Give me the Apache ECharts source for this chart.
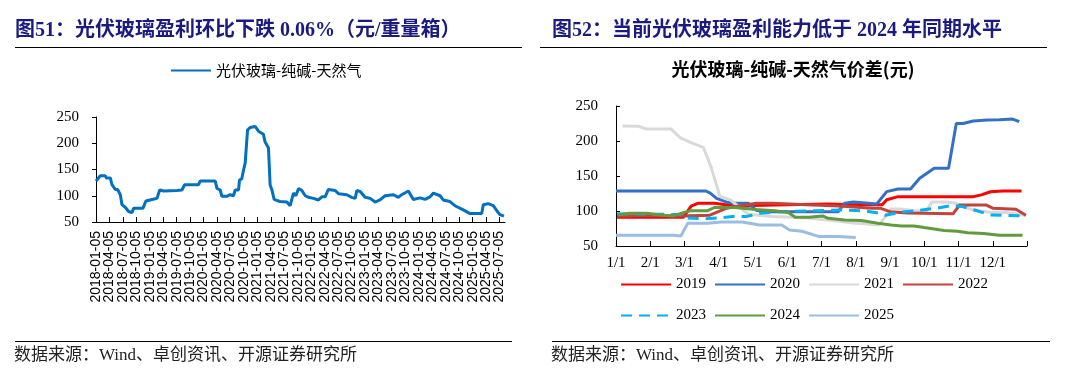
<!DOCTYPE html>
<html><head><meta charset="utf-8">
<script src="https://cdn.jsdelivr.net/npm/echarts@6/dist/echarts.min.js"></script>
<style>html,body{margin:0;padding:0;background:#fff}#c{width:1074px;height:378px}</style>
</head><body><div id="c"></div>
<script>
// ---------- Left chart data (date, value) ----------
const leftName = '光伏玻璃-纯碱-天然气';
const leftSeries = [
['2018-01-05',128],['2018-02-04',138],['2018-03-07',138],['2018-03-14',134],['2018-04-11',134],
['2018-04-22',121],['2018-05-14',112],['2018-05-30',112],['2018-06-18',102],['2018-06-29',83],
['2018-07-21',78],['2018-08-13',70],['2018-09-05',68],['2018-09-17',76],['2018-11-19',76],
['2018-12-09',90],['2019-01-20',93],['2019-02-23',95],['2019-03-11',111],['2019-04-07',109],
['2019-07-06',110],['2019-08-10',111],['2019-08-28',121],['2019-12-01',121],['2019-12-12',128],
['2020-03-23',128],['2020-04-04',114],['2020-04-26',111],['2020-05-07',99],['2020-06-10',99],
['2020-07-03',102],['2020-07-25',100],['2020-08-06',111],['2020-08-29',111],['2020-09-05',130],
['2020-09-20',132],['2020-10-02',149],['2020-10-13',162],['2020-10-24',163],['2020-10-29',225],
['2020-11-16',230],['2020-12-20',232],['2021-01-12',223],['2021-02-15',217],['2021-02-26',203],
['2021-03-19',191],['2021-03-30',121],['2021-04-12',111],['2021-04-27',93],['2021-05-15',91],
['2021-06-07',89],['2021-07-22',88],['2021-08-14',81],['2021-08-25',81],['2021-09-06',105],
['2021-09-22',100],['2021-10-10',114],['2021-11-02',110],['2021-11-25',100],['2021-12-17',97],
['2022-01-20',95],['2022-02-23',92],['2022-03-16',98],['2022-04-08',98],['2022-04-30',112],
['2022-06-15',110],['2022-07-07',104],['2022-09-03',102],['2022-10-06',97],['2022-10-29',95],
['2022-11-10',110],['2022-12-02',108],['2023-01-05',97],['2023-02-09',95],['2023-03-12',88],
['2023-04-15',92],['2023-05-19',100],['2023-07-15',102],['2023-08-18',97],['2023-09-10',102],
['2023-10-25',109],['2023-11-28',93],['2024-01-13',96],['2024-02-16',93],['2024-03-20',98],
['2024-04-12',105],['2024-05-27',100],['2024-06-18',92],['2024-08-03',89],['2024-09-06',81],
['2024-11-02',73],['2024-12-17',66],['2025-03-05',66],['2025-03-16',83],['2025-04-19',85],
['2025-05-23',81],['2025-06-15',72],['2025-07-07',64],['2025-08-04',61]
];
const leftYTicks = [50,100,150,200,250];
// quarterly tick labels, 2018-01-05 ... 2025-07-05 (as month offsets)
const leftXTicks = [0,3,6,9,12,15,18,21,24,27,30,33,36,39,42,45,48,51,54,57,60,63,66,69,72,75,78,81,84,87,90];

// ---------- Right chart data (M/D, value) per year ----------
const years = ['2019','2020','2021','2022','2023','2024','2025'];
const s2019 = [['1/2',91],['2/28',91],['3/1',93],['3/7',107],['3/13',111],['3/28',111],['4/7',109],['4/19',106],['5/1',108],['6/1',109],['7/7',110],['8/1',109],['8/25',109],['8/29',116],['9/8',120.5],['11/14',120.5],['11/21',123],['11/29',127.5],['12/10',128.5],['12/27',128.5]];
const s2020 = [['1/1',128.6],['3/20',128.6],['3/24',126],['3/30',118],['4/9',112],['4/16',111],['4/27',111],['5/4',101],['5/10',99],['7/16',99],['7/22',111],['7/30',113],['8/20',110],['8/29',127.7],['9/8',131.5],['9/19',131.5],['9/27',146.7],['10/10',161],['10/23',161],['10/30',225],['11/5',225],['11/14',228.6],['11/26',230],['12/7',230.5],['12/19',231.4],['12/25',227.6]];
const s2021 = [['1/7',221.4],['1/21',221],['1/29',217],['2/18',217],['2/26',204],['3/8',197],['3/18',191],['3/25',163],['4/2',121],['4/11',116],['4/18',107],['4/24',99],['4/28',95],['5/19',92],['6/19',90],['7/1',88],['7/13',86],['7/30',83],['8/22',80],['9/2',103],['9/10',103],['9/25',100],['10/3',100],['10/8',113],['10/21',113],['10/30',111],['11/14',101],['12/1',98],['12/13',98],['12/26',95],['12/31',93]];
const s2022 = [['1/2',93],['2/1',94],['2/26',93],['3/24',94],['4/8',104],['4/19',107],['5/4',111],['5/19',111],['6/18',109],['7/17',107],['8/16',104],['8/23',104],['9/1',99],['9/16',97],['10/27',96],['11/2',108.6],['11/25',108.6],['12/1',104],['12/22',102.5],['12/31',94]];
const s2023 = [['1/2',96],['2/26',95],['3/1',90],['3/19',89],['4/1',90],['4/13',92],['4/25',92],['5/6',96.7],['5/27',99],['6/26',100.5],['7/22',101.4],['8/10',100],['8/22',97],['8/28',94],['9/9',98],['9/24',100.5],['10/12',104],['10/27',108],['11/5',106],['11/16',101],['11/29',94.3],['12/28',93]];
const s2024 = [['1/3',94.4],['1/13',96.7],['1/29',96.7],['2/9',94.4],['2/20',93],['2/28',97.7],['3/7',100.5],['3/22',100.5],['3/28',105],['4/15',105],['5/3',102],['5/21',100.5],['6/2',97.7],['6/8',91],['6/20',91],['7/2',93],['7/7',89.6],['7/22',87.2],['8/6',86.3],['8/21',82.4],['9/2',80],['9/11',78.6],['9/22',78.6],['10/1',76.3],['10/19',72],['10/31',71],['11/9',69],['11/23',68],['12/7',65.3],['12/28',65.3]];
const s2025 = [['1/1',65.3],['2/20',65.3],['2/26',64.4],['3/4',82.4],['3/22',82.4],['4/3',84.3],['4/21',84.3],['4/28',82.4],['5/7',80],['5/27',80],['6/3',73],['6/14',71],['6/29',63.4],['7/16',63.4],['8/1',62]];
const rightYTicks = [50,100,150,200,250];
const rightXLabels = ['1/1','2/1','3/1','4/1','5/1','6/1','7/1','8/1','9/1','10/1','11/1','12/1'];

// ---------- helpers ----------
const SERIF = '"Liberation Serif","Noto Sans CJK SC",serif';
const CJK = '"Noto Sans CJK SC","Liberation Sans",sans-serif';
function leftX(d){const p=d.split('-').map(Number);return (p[0]-2018)*12+(p[1]-1)+(p[2]-5)/30.4;}
const mdays=[31,28,31,30,31,30,31,31,30,31,30,31];
function rightX(md){const p=md.split('/').map(Number);return (p[0]-1)+(p[1]-1)/mdays[p[0]-1];}
function leftLabel(v){const y=2018+Math.floor(v/12);const m=(v%12)+1;return y+'-'+(m<10?'0'+m:m)+'-05';}
// split labels over two stacked axes so the library does not drop any as overlapping
const leftXTicksA = leftXTicks.filter((v,i)=>i%2===0);
const leftXTicksB = leftXTicks.filter((v,i)=>i%2===1);

const yearData=[s2019,s2020,s2021,s2022,s2023,s2024,s2025];
const yearColors=['#ff0000','#3470c6','#d9d9d9','#c2433a','#00b0f0','#629b3f','#9bbde4'];

const chart = echarts.init(document.getElementById('c'), null, {renderer:'canvas'});
const axisBlack={lineStyle:{color:'#000',width:1}};
const legendCommon={padding:0,itemHeight:3,itemStyle:{opacity:0,borderWidth:0}};
const leftLabelStyle={rotate:90,margin:9,hideOverlap:false,showMinLabel:true,showMaxLabel:true,
  fontFamily:'"Liberation Sans",sans-serif',fontSize:14,color:'#000',formatter:leftLabel};
const option = {
  animation:false,
  backgroundColor:'#fff',
  title:[
    {text:'图51：光伏玻璃盈利环比下跌 0.06%（元/重量箱）',left:15,top:21,padding:0,
     textStyle:{fontFamily:SERIF,fontWeight:'bold',fontSize:20,color:'#1a1a80'}},
    {text:'图52：当前光伏玻璃盈利能力低于 2024 年同期水平',left:552,top:21,padding:0,
     textStyle:{fontFamily:SERIF,fontWeight:'bold',fontSize:20,color:'#1a1a80'}},
    {text:'光伏玻璃-纯碱-天然气价差(元)',left:793,textAlign:'center',top:60,padding:0,
     textStyle:{fontFamily:CJK,fontWeight:'bold',fontSize:18,color:'#000'}}
  ],
  legend:[
    Object.assign({data:[leftName],left:170,top:63,itemWidth:40,
     textStyle:{fontFamily:CJK,fontSize:15,color:'#000'}},legendCommon),
    Object.assign({data:['2019','2020','2021','2022'],left:620,top:277,itemWidth:50,itemGap:8,
     textStyle:{fontFamily:SERIF,fontSize:15,color:'#000'}},legendCommon),
    Object.assign({data:['2023','2024','2025'],left:620,top:308,itemWidth:50,itemGap:8,
     textStyle:{fontFamily:SERIF,fontSize:15,color:'#000'}},legendCommon)
  ],
  grid:[
    {left:96,top:117,width:409,height:105},
    {left:616,top:106,width:411,height:140}
  ],
  xAxis:[
    {gridIndex:0,type:'value',position:'bottom',min:0,max:91.2,axisLine:axisBlack,
     axisTick:{inside:true,length:5,customValues:leftXTicks,lineStyle:{color:'#000'}},
     axisLabel:Object.assign({customValues:leftXTicksA},leftLabelStyle),
     splitLine:{show:false}},
    {gridIndex:0,type:'value',position:'bottom',offset:0,min:0,max:91.2,axisLine:{show:false},
     axisTick:{show:false},
     axisLabel:Object.assign({customValues:leftXTicksB},leftLabelStyle),
     splitLine:{show:false}},
    {gridIndex:1,type:'value',min:0,max:12,axisLine:axisBlack,
     axisTick:{inside:true,length:5,customValues:[0,1,2,3,4,5,6,7,8,9,10,11,12],lineStyle:{color:'#000'}},
     axisLabel:{customValues:[0,1,2,3,4,5,6,7,8,9,10,11],margin:10,hideOverlap:false,showMinLabel:true,fontFamily:SERIF,fontSize:15,color:'#000',
       formatter:function(v){return rightXLabels[Math.round(v)]||'';}},
     splitLine:{show:false}}
  ],
  yAxis:[
    {gridIndex:0,type:'value',min:50,max:250,interval:50,axisLine:{show:true,lineStyle:{color:'#000'}},
     axisTick:{show:true,inside:false,length:4,lineStyle:{color:'#000'}},
     axisLabel:{margin:17,fontFamily:SERIF,fontSize:15,color:'#000'},splitLine:{show:false}},
    {gridIndex:1,type:'value',min:50,max:250,interval:50,axisLine:{show:true,lineStyle:{color:'#000'}},
     axisTick:{show:true,inside:true,length:4,lineStyle:{color:'#000'}},
     axisLabel:{margin:18,fontFamily:SERIF,fontSize:15,color:'#000'},splitLine:{show:false}}
  ],
  series:[
    {name:leftName,type:'line',xAxisIndex:0,yAxisIndex:0,symbol:'none',
     lineStyle:{color:'#0070c0',width:3},itemStyle:{color:'#0070c0'},
     data:leftSeries.map(p=>[leftX(p[0]),p[1]])}
  ].concat(years.map((y,i)=>({
     name:y,type:'line',xAxisIndex:2,yAxisIndex:1,symbol:'none',
     lineStyle:{color:yearColors[i],width:3,type:y==='2023'?[11,7]:'solid'},
     itemStyle:{color:yearColors[i]},
     data:yearData[i].map(p=>[rightX(p[0]),p[1]])
  }))),
  graphic:[
    {type:'line',shape:{x1:15,y1:47.5,x2:522,y2:47.5},style:{stroke:'#000',lineWidth:1}},
    {type:'line',shape:{x1:540,y1:47.5,x2:1047,y2:47.5},style:{stroke:'#000',lineWidth:1}},
    {type:'line',shape:{x1:15,y1:341.5,x2:512,y2:341.5},style:{stroke:'#000',lineWidth:1}},
    {type:'line',shape:{x1:552,y1:341.5,x2:1050,y2:341.5},style:{stroke:'#000',lineWidth:1}},
    {type:'text',left:14,top:347,style:{text:'数据来源：Wind、卓创资讯、开源证券研究所',font:'17px '+SERIF,fill:'#222'}},
    {type:'text',left:551,top:347,style:{text:'数据来源：Wind、卓创资讯、开源证券研究所',font:'17px '+SERIF,fill:'#222'}}
  ]
};
chart.setOption(option);
</script>
</body></html>
